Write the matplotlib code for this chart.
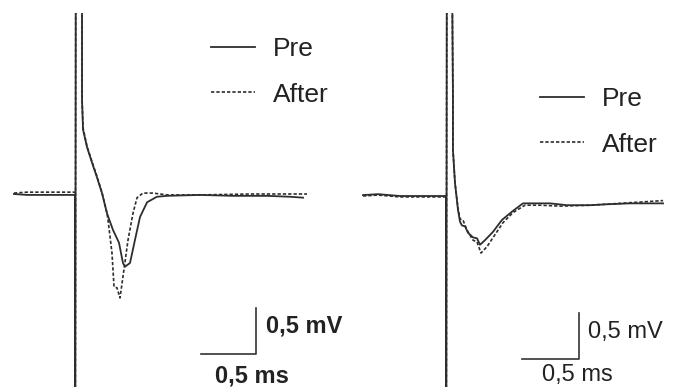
import matplotlib
matplotlib.use("Agg")
import matplotlib.pyplot as plt

plt.rcParams['font.family'] = ['Liberation Sans', 'DejaVu Sans']

# ---- data (time in ms, voltage in mV, stimulus at t = 0) ----
# off-scale values of the stimulus artifact (clipped by the axes)
ART_LO, ART_HI = -6.0, 6.0

# left recording
left_pre_t = [-0.555, -0.436, -0.2, 0.0, 0.0, 0.01, 0.055,
              0.064, 0.064, 0.073, 0.109, 0.155, 0.200, 0.245, 0.291, 0.345,
              0.400, 0.436, 0.455, 0.500, 0.545, 0.591, 0.655, 0.745, 0.836,
              1.136, 1.436, 1.745, 1.955, 2.073]
left_pre_v = [0.0, -0.01, -0.01, -0.01, ART_LO, ART_HI, ART_HI,
              2.5, 1.02, 0.70, 0.51, 0.34, 0.18, 0.01, -0.21, -0.39,
              -0.53, -0.75, -0.79, -0.75, -0.50, -0.25, -0.09, -0.03, -0.02,
              -0.01, -0.02, -0.02, -0.03, -0.04]

left_after_t = [-0.555, -0.436, -0.2, 0.0, 0.0, 0.01, 0.055,
                0.064, 0.064, 0.073, 0.109, 0.155, 0.200, 0.245, 0.291, 0.300,
                0.336, 0.355, 0.382, 0.409, 0.436, 0.482, 0.527, 0.564, 0.618,
                0.709, 0.836, 1.136, 1.6, 2.109]
left_after_v = [0.01, 0.02, 0.02, 0.02, ART_LO, ART_HI, ART_HI,
                2.5, 1.04, 0.72, 0.52, 0.35, 0.19, 0.02, -0.21, -0.28,
                -0.64, -1.01, -1.02, -1.13, -0.90, -0.50, -0.21, -0.04, 0.01,
                0.01, -0.01, -0.01, 0.0, 0.0]

# right recording
right_pre_t = [-0.728, -0.596, -0.404, 0.0, 0.0, 0.01, 0.045,
               0.053, 0.061, 0.061, 0.079, 0.105, 0.123, 0.140, 0.167, 0.193,
               0.237, 0.272, 0.298, 0.342, 0.412, 0.491, 0.579, 0.675, 0.763,
               0.912, 1.061, 1.263, 1.412, 1.614, 1.904]
right_pre_v = [0.01, 0.02, 0.0, 0.0, ART_LO, ART_HI, ART_HI,
               2.5, 1.04, 0.50, 0.14, -0.15, -0.28, -0.32, -0.33, -0.40,
               -0.45, -0.46, -0.53, -0.48, -0.39, -0.26, -0.17, -0.08, -0.08,
               -0.08, -0.10, -0.10, -0.09, -0.08, -0.08]

right_after_t = [-0.728, -0.596, -0.404, 0.0, 0.0, 0.01, 0.045,
                 0.053, 0.061, 0.061, 0.079, 0.105, 0.123, 0.149, 0.167, 0.193,
                 0.237, 0.272, 0.307, 0.360, 0.430, 0.500, 0.588, 0.693, 0.825,
                 1.0, 1.263, 1.526, 1.904]
right_after_v = [0.0, 0.01, -0.01, -0.01, ART_LO, ART_HI, ART_HI,
                 2.5, 1.04, 0.50, 0.14, -0.13, -0.25, -0.26, -0.32, -0.39,
                 -0.48, -0.50, -0.62, -0.55, -0.42, -0.29, -0.18, -0.10, -0.10,
                 -0.11, -0.10, -0.08, -0.05]

labels = ["Pre", "After"]
SCALE_MS, SCALE_MV = 0.5, 0.5
scale_labels = ["0,5 ms", "0,5 mV"]

W, H = 681, 387
TRACE_COL = "#2e2e2e"
PT = 0.72  # points per pixel at 100 dpi

fig = plt.figure(figsize=(W / 100, H / 100), dpi=100)


def px_axes(x0, x1, y_top, y_bot):
    return fig.add_axes([x0 / W, 1 - y_bot / H, (x1 - x0) / W, (y_bot - y_top) / H])


def draw_panel(ax, pre, after, xlim, ylim, corner, bold, ms_off, mv_off, legend_anchor):
    ax.plot(*pre, color=TRACE_COL, lw=1.3, label=labels[0])
    ax.plot(*after, color=TRACE_COL, lw=1.2, ls=(0, (2, 1.2)), label=labels[1])
    ax.set_xlim(*xlim)
    ax.set_ylim(*ylim)
    ax.axis("off")

    # scale bar
    cx, cy = corner
    ax.plot([cx - SCALE_MS, cx, cx], [cy, cy, cy + SCALE_MV], color="#333333",
            lw=1.2, clip_on=False)
    weight = "bold" if bold else "normal"
    ax.annotate(scale_labels[1], (cx, cy),
                xytext=(mv_off[0] * PT, mv_off[1] * PT),
                textcoords="offset points", ha="left", va="baseline",
                fontsize=17, fontweight=weight, color="#222222")
    ax.annotate(scale_labels[0], (cx - SCALE_MS, cy),
                xytext=(ms_off[0] * PT, ms_off[1] * PT),
                textcoords="offset points", ha="left", va="baseline",
                fontsize=17, fontweight=weight, color="#222222")

    ax.legend(loc="upper left", bbox_to_anchor=legend_anchor,
              bbox_transform=fig.transFigure, frameon=False, fontsize=19,
              handlelength=1.67, handletextpad=0.66, labelspacing=0.82,
              borderpad=0, borderaxespad=0, labelcolor="#222222")


# left panel: stimulus at x=75px, baseline y=194px, 110 px/ms, 92 px/mV
ax1 = px_axes(0, 340, 13, 387)
draw_panel(ax1, (left_pre_t, left_pre_v), (left_after_t, left_after_v),
           ((0 - 75) / 110, (340 - 75) / 110), ((194 - 387) / 92, (194 - 13) / 92),
           ((256 - 75) / 110, (194 - 354) / 92), True, (14, -29), (10, 21),
           (211 / W, 1 - 37 / H))

# right panel: stimulus at x=446px, baseline y=196px, 114 px/ms, 92 px/mV
ax2 = px_axes(340, 681, 13, 387)
draw_panel(ax2, (right_pre_t, right_pre_v), (right_after_t, right_after_v),
           ((340 - 446) / 114, (681 - 446) / 114), ((196 - 387) / 92, (196 - 13) / 92),
           ((579 - 446) / 114, (196 - 359) / 92), False, (20, -22), (9, 21),
           (540 / W, 1 - 87 / H))

fig.savefig("out.png", dpi=100)
